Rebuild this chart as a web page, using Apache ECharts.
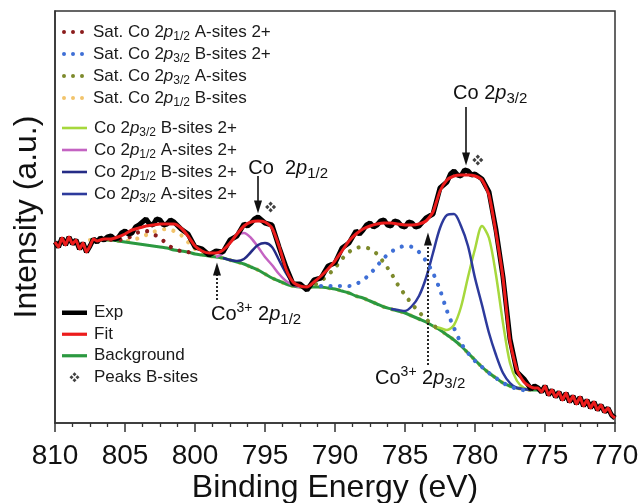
<!DOCTYPE html>
<html>
<head>
<meta charset="utf-8">
<script src="https://cdn.jsdelivr.net/npm/echarts/dist/echarts.min.js"></script>
<style>
  html, body { margin: 0; padding: 0; background: #fff; }
  #chart { width: 643px; height: 503px; }
</style>
</head>
<body>
<div id="chart"></div>
<script>
const FONT = '"Liberation Sans", Arial, Helvetica, sans-serif';

// x axis (binding energy, eV)
const energyMin = 770;
const energyMax = 810;
const energyStep = 5;

// Measured Co 2p spectrum: [binding energy (eV), intensity (a.u.)]
const expData = [
  [810,181],[809.75,176],[809.5,185],[809.25,178],[809,186],[808.75,179],[808.5,183],[808.25,174],
  [808,180],[807.75,171],[807.5,177],[807.25,184],[807,181],[806.75,185],[806.5,183],[806.25,186],[806,187],
  [805.75,184],[805.5,185],[805.25,190],[805,192],[804.75,189],[804.5,190],[804.25,196],[804,198],[803.75,201],[803.5,204],[803.25,199],[803,198],[802.75,204],[802.5,203],[802.25,198],[802,199],
  [801.75,203],[801.5,201],[801,194],[800.5,189],[800,176],[799.5,174],[799,168],[798.5,172],[798,171],
  [797.5,183],[797,187],[796.5,199],[796.25,197],[796,200],[795.75,204],[795.5,206],[795.25,203],[795,200],[794.5,198],[794,176],
  [793.5,156],[793,139],[792.5,139],[792,133],[791.5,143],[791,145],[790.5,157],[790,160],
  [789.5,175],[789,180],[788.5,192],[788.25,189],[788,193],[787.75,198],[787.5,200],[787.25,196],[787,198],[786.75,202],[786.5,203],[786.25,198],[786,197],
  [785.75,202],[785.5,201],[785.25,197],[785,196],[784.75,201],[784.5,200],[784.25,196],[784,197],[783.5,205],[783,209],[782.5,235],[782,241],
  [781.75,249],[781.5,252],[781.25,248],[781,247],[780.75,253],[780.5,252],[780.25,248],[780,249],[779.5,244],[779,231],[778.5,193],[778,146],
  [777.5,84],[777,51],[776.5,44],[776,34],[775.75,37],[775.5,35],[775.25,31],[775,37],
  [774.75,28],[774.5,33],[774.25,26],[774,31],[773.75,23],[773.5,30],[773.25,21],[773,27],
  [772.75,19],[772.5,26],[772.25,17],[772,23],[771.75,15],[771.5,21],[771.25,13],[771,18],
  [770.75,11],[770.5,15],[770.25,8],[770,5]
];

// Total fit envelope (follows the raw counts outside the fitted window)
const fitData = [
  [810,181],[809.75,176],[809.5,185],[809.25,178],[809,186],[808.75,179],[808.5,183],[808.25,174],
  [808,180],[807.75,171],[807.5,177],[807.25,184],[807,182],[806.5,184],[806,184],[805.5,186],
  [805,189],[804.5,193],[804,195],[803.5,197],[803,198],[802.5,199],[802,199],[801.5,199],
  [801,195],[800.5,187],[800,177],[799.5,172],[799,170],[798.5,170],[798,173],[797.5,180],
  [797,189],[796.5,197],[796,201],[795.5,202],[795,201],[794.5,195],[794,177],[793.5,154],
  [793,141],[792.5,137],[792,136],[791.5,141],[791,147],[790.5,154],[790,162],[789.5,172],
  [789,182],[788.5,189],[788,194],[787.5,197],[787,199],[786.5,200],[786,200],[785.5,199],
  [785,198],[784.5,198],[784,199],[783.5,202],[783,211],[782.5,232],[782,243],[781.5,247],
  [781,248],[780.5,248],[780,247],[779.5,243],[779,228],[778.5,190],[778,145],[777.5,82],
  [777,53],[776.5,41],[776,36],[775.75,35],[775.5,35],[775.25,31],[775,37],
  [774.75,28],[774.5,33],[774.25,26],[774,31],[773.75,23],[773.5,30],[773.25,21],[773,27],
  [772.75,19],[772.5,26],[772.25,17],[772,23],[771.75,15],[771.5,21],[771.25,13],[771,18],
  [770.75,11],[770.5,15],[770.25,8],[770,5]
];

// Shirley-type background
const backgroundData = [
  [807.5,183],[807,183],[806.5,183],[806,183],[805.5,182],[805,181],[804.5,180],[804,179],
  [803.5,178],[803,177],[802.5,176],[802,175],[801.5,173],[801,172],[800.5,171],[800,169],
  [799.5,168],[799,167],[798.5,166],[798,165],[797.5,163],[797,161],[796.5,159],[796,156],
  [795.5,153],[795,149],[794.5,145],[794,142],[793.5,139],[793,137],[792.5,136],[792,136],
  [791.5,136],[791,136],[790.5,135],[790,134],[789.5,132],[789,130],[788.5,127],[788,125],
  [787.5,122],[787,119],[786.5,116],[786,114],[785.5,112],[785,110],[784.5,107],[784,104],
  [783.5,101],[783,97],[782.5,93],[782,88],[781.5,83],[781,77],[780.5,70],[780,63],
  [779.5,56],[779,50],[778.5,45],[778,40],[777.5,37],[777,35],[776.5,34],[776,33],[775.5,33]
];

// Main components (drawn on top of the background)
const co2p32BSites = [
  [783,97],[782.5,95],[782,93],[781.5,98],[781,116],[780.5,146],[780,174],[779.5,197],
  [779,185],[778.5,148],[778,100],[777.5,60],[777,42],[776.5,35],[776,33]
];
const co2p12ASites = [
  [798.5,166],[798,170],[797.5,180],[797,188],[796.5,190],[796,185],[795.5,176],[795,166],
  [794.5,158],[794,149],[793.5,142],[793,138],[792.5,136]
];
const co2p12BSites = [
  [798,165],[797.5,163],[797,162],[796.5,164],[796,171],[795.5,178],[795,180],[794.5,176],
  [794,163],[793.5,150],[793,140],[792.5,137]
];
const co2p32ASites = [
  [786,114],[785.5,113],[785,112],[784.5,117],[784,127],[783.5,145],[783,170],[782.5,195],
  [782,208],[781.5,209],[781,197],[780.5,177],[780,145],[779.5,118],[779,90],[778.5,68],
  [778,50],[777.5,40],[777,35],[776.5,34],[776,33]
];

// Shake-up satellites
const satCo2p12ASites = [
  [806,183],[805.5,183],[805,184],[804.5,187],[804,191],[803.5,192],[803,189],[802.5,185],
  [802,179],[801.5,174],[801,172],[800.5,171],[800,169]
];
const satCo2p32BSites = [
  [791,137],[790,137],[789,137],[788.5,139],[788,143],[787.5,149],[787,157],[786.5,165],
  [786,171],[785.5,175],[785,177],[784.5,176],[784,171],[783.5,162],[783,150],[782.5,133],
  [782,112],[781.5,95],[781,80],[780.5,70],[780,62],[779.5,56],[779,50],[778.5,45],
  [778,40],[777.5,37],[777,34],[776,32]
];
const satCo2p32ASites = [
  [792,136],[791.5,138],[791,142],[790.5,148],[790,155],[789.5,164],[789,171],[788.5,175],
  [788,176],[787.5,174],[787,169],[786.5,160],[786,150],[785.5,138],[785,128],[784.5,119],
  [784,111],[783.5,104],[783,98],[782.5,93]
];
const satCo2p12BSites = [
  [807.5,183],[807,183],[806.5,183],[806,183],[805.5,182],[805,182],[804.5,183],[804,185],
  [803.5,188],[803,191],[802.5,193],[802,194],[801.5,192],[801,188],[800.5,181],[800,174],
  [799.5,169],[799,167],[798.5,166],[798,165],[797.5,163],[797,161],[796.5,159],[796,156],
  [795.5,153],[795,149],[794.5,145],[794,142],[793.5,139],[793,137],[792.5,136],[792,136],
  [791.5,136],[791,136],[790.5,135],[790,134],[789.5,132],[789,130],[788.5,127],[788,125],
  [787.5,122],[787,119],[786.5,116],[786,114],[785.5,112],[785,110],[784.5,107],[784,104],
  [783.5,101],[783,97],[782.5,93],[782,88],[781.5,83],[781,77],[780.5,70],[780,63],
  [779.5,56],[779,50],[778.5,45],[778,40],[777.5,37],[777,35],[776.5,34],[776,33],[775.5,33]
];

// B-site peak markers
const peaksBSites = [[779.8, 263], [794.6, 216]];

// Series names (legend text)
const satNames = [
  'Sat. Co 2p1/2 A-sites 2+',
  'Sat. Co 2p3/2 B-sites 2+',
  'Sat. Co 2p3/2 A-sites',
  'Sat. Co 2p1/2 B-sites'
];
const compNames = [
  'Co 2p3/2 B-sites 2+',
  'Co 2p1/2 A-sites 2+',
  'Co 2p1/2 B-sites 2+',
  'Co 2p3/2 A-sites 2+'
];

const COLORS = {
  satA12: '#8b1c1c',
  satB32: '#3f6fd6',
  satA32: '#7d8a2c',
  satB12: '#f2c46c',
  compB32: '#a6d83c',
  compA12: '#c463c2',
  compB12: '#252c86',
  compA32: '#2d3a9c',
  exp: '#000000',
  fit: '#ec1c1c',
  bg: '#2b9940'
};

const DOTS_ICON = 'path://M0,2a2,2 0 1,0 4,0a2,2 0 1,0 -4,0M9,2a2,2 0 1,0 4,0a2,2 0 1,0 -4,0M18,2a2,2 0 1,0 4,0a2,2 0 1,0 -4,0';
const LINE_ICON = 'path://M0,0H25V2.6H0Z';
const THICK_ICON = 'path://M0,0H25V4.5H0Z';
const MID_ICON = 'path://M0,0H25V3.2H0Z';
const CLOVER = 'path://M5,0L7,2L5,4L3,2ZM0,5L2,3L4,5L2,7ZM6,5L8,3L10,5L8,7ZM5,6L7,8L5,10L3,8Z';

function richName(name) {
  return name.replace(/2p(\d\/\d)/, '2{i|p}{s|$1}');
}

const legendText = {
  color: '#1a1a1a',
  fontFamily: FONT,
  fontSize: 17,
  lineHeight: 21.5,
  padding: [0, 0, 0, 2],
  rich: {
    i: { fontStyle: 'italic', fontSize: 17, fontFamily: FONT, color: '#1a1a1a', lineHeight: 21.5 },
    s: { fontSize: 12, fontFamily: FONT, color: '#1a1a1a', lineHeight: 21.5, padding: [10, 0, 0, 0] }
  }
};

function dotted(name, data, color, z) {
  return {
    name, type: 'line', data, smooth: 0.3, showSymbol: false, z,
    color,
    lineStyle: { color, width: 4.2, type: [0.01, 9.5], cap: 'round' }
  };
}
function solid(name, data, color, width, z, smooth) {
  return {
    name, type: 'line', data, smooth: smooth, showSymbol: false, z,
    color,
    lineStyle: { color, width }
  };
}

const dashed = { type: [2, 2], width: 1.8 };

const series = [
  dotted(satNames[3], satCo2p12BSites, COLORS.satB12, 2),
  solid('Background', backgroundData, COLORS.bg, 3, 3, 0.3),
  solid(compNames[0], co2p32BSites, COLORS.compB32, 2.5, 4, 0.3),
  solid(compNames[1], co2p12ASites, COLORS.compA12, 2.5, 4, 0.3),
  solid(compNames[2], co2p12BSites, COLORS.compB12, 2.5, 4, 0.3),
  solid(compNames[3], co2p32ASites, COLORS.compA32, 2.5, 4, 0.3),
  dotted(satNames[0], satCo2p12ASites, COLORS.satA12, 5),
  dotted(satNames[1], satCo2p32BSites, COLORS.satB32, 5),
  dotted(satNames[2], satCo2p32ASites, COLORS.satA32, 5),
  solid('Exp', expData, COLORS.exp, 5, 6, false),
  solid('Fit', fitData, COLORS.fit, 3, 7, 0.2),
  {
    name: 'Peaks B-sites', type: 'scatter', data: peaksBSites, z: 8,
    symbol: CLOVER, symbolSize: 11, color: '#111', itemStyle: { color: '#111' }
  },
  {
    // annotation arrows
    type: 'line', data: [], z: 8, silent: true,
    markLine: {
      silent: true,
      symbol: ['none', 'triangle'],
      symbolSize: [8, 13],
      label: { show: false },
      emphasis: { disabled: true },
      lineStyle: { color: '#111', width: 1.6, type: 'solid' },
      data: [
        [{ coord: [780.64, 316] }, { coord: [780.64, 264] }],
        [{ coord: [795.5, 247] }, { coord: [795.5, 216] }],
        [{ coord: [798.43, 123], lineStyle: dashed }, { coord: [798.43, 154], lineStyle: dashed }],
        [{ coord: [783.36, 58], lineStyle: dashed }, { coord: [783.36, 184], lineStyle: dashed }]
      ]
    }
  }
];

const legendBase = {
  orient: 'vertical', left: 62, padding: 0, selectedMode: false,
  itemGap: 0, formatter: richName, textStyle: legendText,
  itemStyle: { borderWidth: 0 }
};

const option = {
  animation: false,
  backgroundColor: '#fff',
  textStyle: { fontFamily: FONT },
  grid: { left: 55, right: 28, top: 11, bottom: 80, show: true, borderColor: '#333', borderWidth: 1.5, containLabel: false, outerBoundsMode: 'none' },
  legend: [
    Object.assign({}, legendBase, {
      top: 21, itemWidth: 22, itemHeight: 4,
      textStyle: Object.assign({}, legendText, { padding: [0, 0, 0, 4] }),
      data: satNames.map(n => ({ name: n, icon: DOTS_ICON }))
    }),
    Object.assign({}, legendBase, {
      top: 117, itemWidth: 25, itemHeight: 4,
      data: compNames.map(n => ({ name: n, icon: LINE_ICON }))
    }),
    Object.assign({}, legendBase, {
      top: 302, itemWidth: 25, itemHeight: 10,
      data: [
        { name: 'Exp', icon: THICK_ICON },
        { name: 'Fit', icon: MID_ICON },
        { name: 'Background', icon: MID_ICON },
        { name: 'Peaks B-sites', icon: CLOVER }
      ]
    })
  ],
  xAxis: {
    type: 'value', inverse: true,
    min: energyMin, max: energyMax, interval: energyStep,
    name: 'Binding Energy (eV)', nameLocation: 'middle', nameGap: 49, nameMoveOverlap: false,
    nameTextStyle: { fontSize: 32, color: '#111', fontFamily: FONT },
    axisLine: { show: true, onZero: false, lineStyle: { color: '#333', width: 1.5 } },
    axisTick: { show: true, inside: false, length: 9, lineStyle: { color: '#333', width: 1.5 } },
    minorTick: { show: true, splitNumber: 4, length: 4, lineStyle: { color: '#333', width: 1.3 } },
    axisLabel: { fontSize: 28, color: '#111', margin: 19, fontFamily: FONT },
    splitLine: { show: false }
  },
  yAxis: {
    type: 'value', min: 0, max: 412,
    name: 'Intensity (a.u.)', nameLocation: 'middle', nameGap: 12, nameMoveOverlap: false,
    nameTextStyle: { fontSize: 32, color: '#111', fontFamily: FONT },
    axisLine: { show: true, lineStyle: { color: '#333', width: 1.5 } },
    axisTick: { show: false }, axisLabel: { show: false }, splitLine: { show: false }
  },
  series
};

const chart = echarts.init(document.getElementById('chart'), null, { renderer: 'canvas' });
chart.setOption(option);

// Peak labels, anchored in data coordinates [eV, intensity]
const notes = [
  { text: 'Co 2{i|p}{s|3/2}', at: [781.57, 330] },
  { text: 'Co  2{i|p}{s|1/2}', at: [796.2, 255] },
  { text: 'Co{u|3+} 2{i|p}{s|1/2}', at: [798.86, 109] },
  { text: 'Co{u|3+} 2{i|p}{s|3/2}', at: [787.14, 45] }
];
const noteRich = {
  i: { fontStyle: 'italic', fontSize: 20, fontFamily: FONT, fill: '#111' },
  s: { fontSize: 15, fontFamily: FONT, fill: '#111', padding: [11, 0, 0, 0] },
  u: { fontSize: 14, fontFamily: FONT, fill: '#111', padding: [0, 0, 12, 0] }
};
chart.setOption({
  graphic: notes.map(n => {
    const p = chart.convertToPixel({ gridIndex: 0 }, n.at);
    return {
      type: 'text', x: p[0], y: p[1], z: 100, silent: true,
      style: {
        text: n.text, fill: '#111', fontSize: 20, fontFamily: FONT,
        align: 'left', verticalAlign: 'middle', rich: noteRich
      }
    };
  })
});
</script>
</body>
</html>
